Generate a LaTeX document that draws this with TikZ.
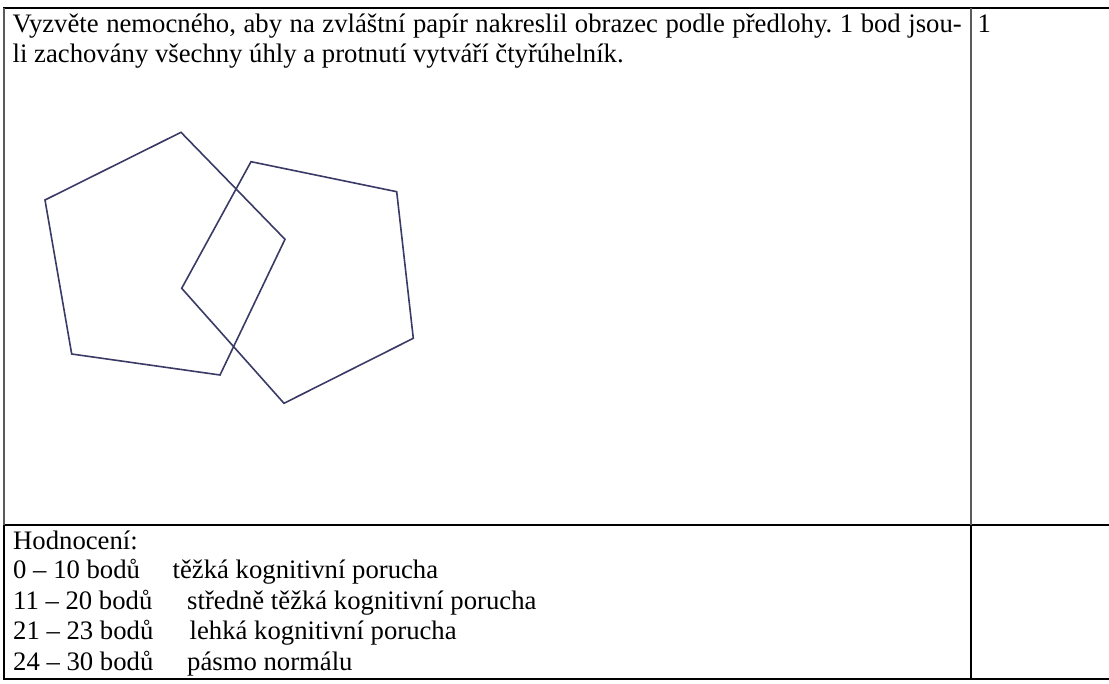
\documentclass[tikz,border=0pt]{standalone}
\usepackage{fontspec}
\setmainfont{Liberation Serif}
\frenchspacing
\definecolor{pentcol}{RGB}{58,58,102}
\definecolor{thingray}{RGB}{90,90,90}
\begin{document}
\begin{tikzpicture}[x=1pt,y=-1pt,
  txt/.style={anchor=base west, inner sep=0pt, font=\fontsize{26.7}{30}\selectfont},
  rule/.style={black, line width=2pt},
  thinrule/.style={thingray, line width=1.3pt},
  pent/.style={pentcol, line width=1.6pt, line join=miter}]
\useasboundingbox (0,0) rectangle (1109,684);
% table rules
\draw[rule] (3,8) -- (1109,8);
\draw[rule] (3,525) -- (1109,525);
\draw[rule] (3,679) -- (1109,679);
\draw[thinrule] (4,8) -- (4,525);
\draw[rule] (4,525) -- (4,680);
\draw[thinrule] (971,8) -- (971,525);
\draw[rule] (971,525) -- (971,680);
% task text
\node[txt] (line1) at (12.5,33) {\hbox to 949pt{Vyzvěte nemocného, aby na zvláštní papír nakreslil obrazec podle předlohy. 1 bod jsou-}};
\node[txt] (line2) at (12.5,62.5) {li zachovány všechny úhly a protnutí vytváří čtyřúhelník.};
\node[txt] (points) at (977.5,33) {1};
% pentagons
\draw[pent] (181,132.3) -- (285,239.3) -- (220,375) -- (71.7,354) -- (45,200) -- cycle;
\draw[pent] (251,161.7) -- (396.7,191.7) -- (413.3,338.3) -- (284,403.3) -- (181.7,288.3) -- cycle;
% evaluation
\node[txt] (hod) at (13,549) {Hodnocení:};
\node[txt] (r1a) at (13,578.5) {0 – 10 bodů};
\node[txt] (r1b) at (172.5,578.5) {těžká kognitivní porucha};
\node[txt] (r2a) at (13,609) {11 – 20 bodů};
\node[txt] (r2b) at (187,609) {středně těžká kognitivní porucha};
\node[txt] (r3a) at (13,639.5) {21 – 23 bodů};
\node[txt] (r3b) at (189.5,639.5) {lehká kognitivní porucha};
\node[txt] (r4a) at (13,670) {24 – 30 bodů};
\node[txt] (r4b) at (187,670) {pásmo normálu};
\end{tikzpicture}
\end{document}
